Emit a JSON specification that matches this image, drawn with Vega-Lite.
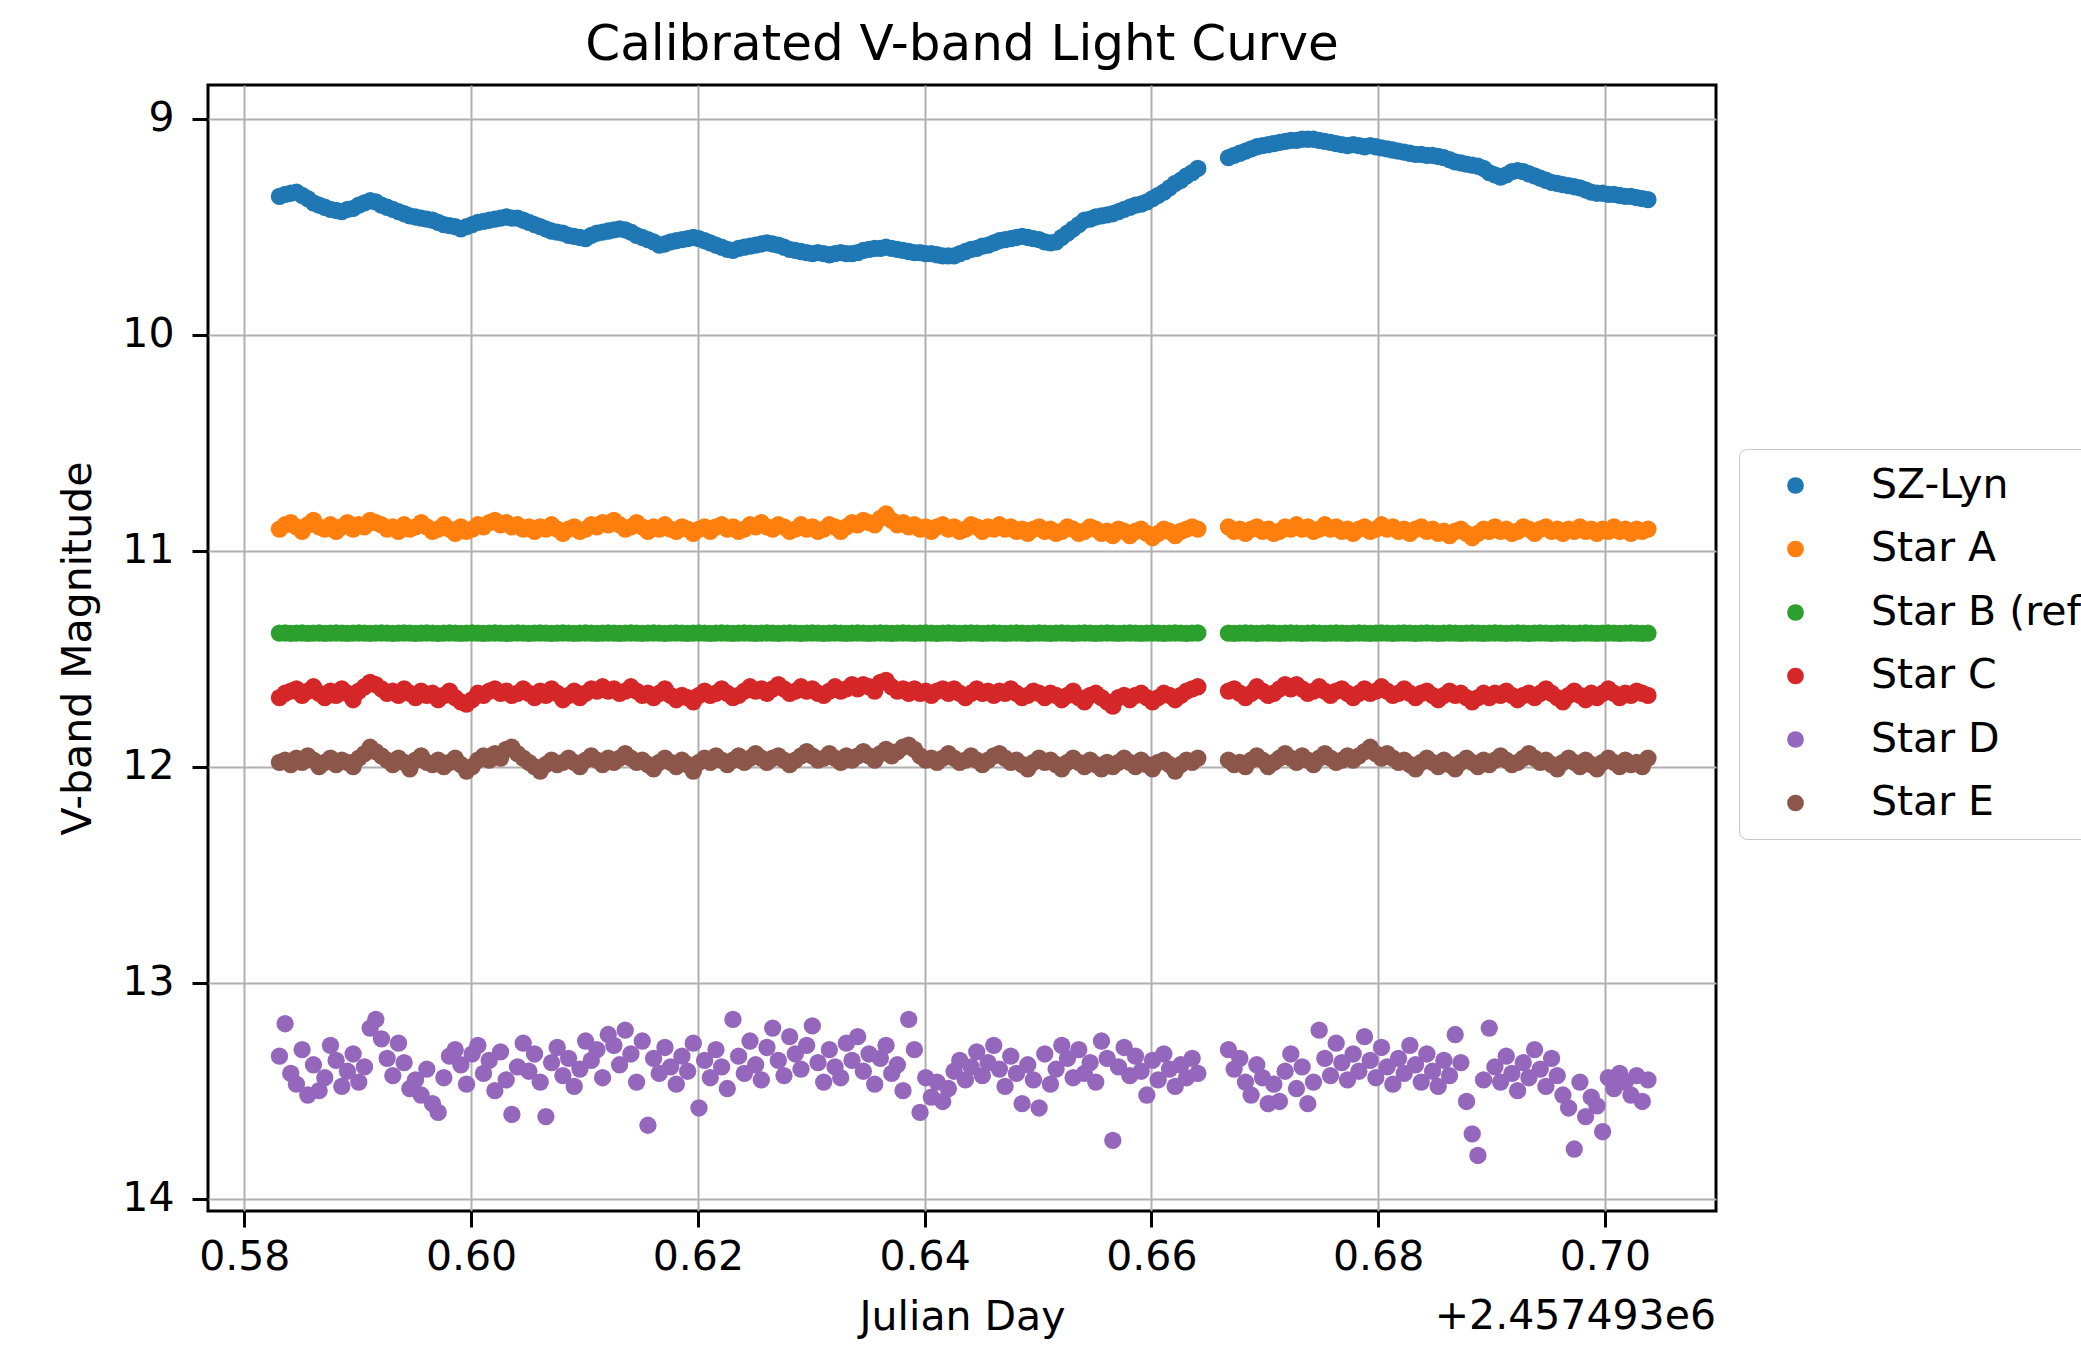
{
"$schema": "https://vega.github.io/schema/vega-lite/v6.json",
"width": 1508, "height": 1126,
"autosize": {"type": "none"},
"padding": {"left": 208, "top": 85, "right": 365, "bottom": 138},
"background": "white",
"title": {"text": "Calibrated V-band Light Curve", "fontSize": 50, "font": "DejaVu Sans", "fontWeight": "normal", "color": "black", "offset": 15, "anchor": "middle"},
"config": {"view": {"stroke": "black", "strokeWidth": 3}, "font": "DejaVu Sans"},
"layer": [
{
"data": {"values": [
{"t":0.5831,"s":9.36,"a":10.90,"b":11.382,"c":11.68,"d":13.34,"e":11.98},
{"t":0.5836,"s":9.35,"a":10.88,"b":11.381,"c":11.66,"d":13.19,"e":11.97},
{"t":0.5841,"s":9.345,"a":10.87,"b":11.383,"c":11.65,"d":13.42,"e":11.99},
{"t":0.5846,"s":9.34,"a":10.89,"b":11.382,"c":11.64,"d":13.47,"e":11.96},
{"t":0.5851,"s":9.355,"a":10.91,"b":11.381,"c":11.67,"d":13.31,"e":11.98},
{"t":0.5856,"s":9.37,"a":10.88,"b":11.383,"c":11.65,"d":13.52,"e":11.95},
{"t":0.5861,"s":9.39,"a":10.86,"b":11.382,"c":11.63,"d":13.38,"e":11.97},
{"t":0.5866,"s":9.40,"a":10.89,"b":11.381,"c":11.66,"d":13.50,"e":12.00},
{"t":0.5871,"s":9.41,"a":10.90,"b":11.383,"c":11.68,"d":13.44,"e":11.98},
{"t":0.5876,"s":9.42,"a":10.88,"b":11.382,"c":11.65,"d":13.29,"e":11.96},
{"t":0.5881,"s":9.425,"a":10.91,"b":11.381,"c":11.67,"d":13.36,"e":11.99},
{"t":0.5886,"s":9.43,"a":10.89,"b":11.382,"c":11.64,"d":13.48,"e":11.97},
{"t":0.5891,"s":9.42,"a":10.87,"b":11.383,"c":11.66,"d":13.41,"e":11.98},
{"t":0.5896,"s":9.415,"a":10.90,"b":11.382,"c":11.69,"d":13.33,"e":12.00},
{"t":0.5901,"s":9.40,"a":10.88,"b":11.381,"c":11.65,"d":13.46,"e":11.96},
{"t":0.5906,"s":9.39,"a":10.89,"b":11.382,"c":11.63,"d":13.39,"e":11.94},
{"t":0.5911,"s":9.38,"a":10.86,"b":11.383,"c":11.61,"d":13.21,"e":11.91},
{"t":0.5916,"s":9.385,"a":10.87,"b":11.382,"c":11.62,"d":13.17,"e":11.93},
{"t":0.5921,"s":9.40,"a":10.88,"b":11.381,"c":11.64,"d":13.26,"e":11.95},
{"t":0.5926,"s":9.41,"a":10.90,"b":11.382,"c":11.66,"d":13.35,"e":11.97},
{"t":0.5931,"s":9.42,"a":10.89,"b":11.383,"c":11.65,"d":13.43,"e":11.99},
{"t":0.5936,"s":9.43,"a":10.91,"b":11.382,"c":11.67,"d":13.28,"e":11.96},
{"t":0.5941,"s":9.44,"a":10.88,"b":11.381,"c":11.64,"d":13.37,"e":11.98},
{"t":0.5946,"s":9.45,"a":10.90,"b":11.382,"c":11.66,"d":13.49,"e":12.01},
{"t":0.5951,"s":9.455,"a":10.89,"b":11.383,"c":11.68,"d":13.45,"e":11.97},
{"t":0.5956,"s":9.46,"a":10.87,"b":11.382,"c":11.65,"d":13.52,"e":11.95},
{"t":0.5961,"s":9.465,"a":10.89,"b":11.381,"c":11.67,"d":13.40,"e":11.98},
{"t":0.5966,"s":9.47,"a":10.91,"b":11.382,"c":11.66,"d":13.56,"e":11.99},
{"t":0.5971,"s":9.48,"a":10.90,"b":11.383,"c":11.69,"d":13.60,"e":11.97},
{"t":0.5976,"s":9.49,"a":10.88,"b":11.382,"c":11.67,"d":13.44,"e":12.00},
{"t":0.5981,"s":9.495,"a":10.90,"b":11.381,"c":11.65,"d":13.34,"e":11.98},
{"t":0.5986,"s":9.50,"a":10.92,"b":11.382,"c":11.68,"d":13.31,"e":11.96},
{"t":0.5991,"s":9.51,"a":10.89,"b":11.383,"c":11.70,"d":13.38,"e":11.99},
{"t":0.5996,"s":9.50,"a":10.91,"b":11.382,"c":11.71,"d":13.47,"e":12.02},
{"t":0.6001,"s":9.49,"a":10.90,"b":11.381,"c":11.69,"d":13.33,"e":12.00},
{"t":0.6006,"s":9.48,"a":10.88,"b":11.382,"c":11.66,"d":13.29,"e":11.97},
{"t":0.6011,"s":9.475,"a":10.89,"b":11.383,"c":11.67,"d":13.42,"e":11.95},
{"t":0.6016,"s":9.47,"a":10.87,"b":11.382,"c":11.65,"d":13.36,"e":11.97},
{"t":0.6021,"s":9.465,"a":10.86,"b":11.381,"c":11.64,"d":13.50,"e":11.94},
{"t":0.6026,"s":9.46,"a":10.88,"b":11.382,"c":11.66,"d":13.32,"e":11.96},
{"t":0.6031,"s":9.455,"a":10.87,"b":11.383,"c":11.65,"d":13.45,"e":11.92},
{"t":0.6036,"s":9.46,"a":10.89,"b":11.382,"c":11.67,"d":13.61,"e":11.91},
{"t":0.6041,"s":9.46,"a":10.88,"b":11.381,"c":11.66,"d":13.39,"e":11.94},
{"t":0.6046,"s":9.47,"a":10.90,"b":11.382,"c":11.64,"d":13.28,"e":11.96},
{"t":0.6051,"s":9.48,"a":10.89,"b":11.383,"c":11.66,"d":13.41,"e":11.98},
{"t":0.6056,"s":9.49,"a":10.91,"b":11.382,"c":11.68,"d":13.33,"e":12.00},
{"t":0.6061,"s":9.50,"a":10.89,"b":11.381,"c":11.65,"d":13.46,"e":12.02},
{"t":0.6066,"s":9.51,"a":10.90,"b":11.382,"c":11.67,"d":13.62,"e":11.99},
{"t":0.6071,"s":9.52,"a":10.88,"b":11.383,"c":11.64,"d":13.37,"e":11.97},
{"t":0.6076,"s":9.525,"a":10.90,"b":11.382,"c":11.66,"d":13.30,"e":11.99},
{"t":0.6081,"s":9.53,"a":10.92,"b":11.381,"c":11.69,"d":13.43,"e":11.98},
{"t":0.6086,"s":9.54,"a":10.90,"b":11.382,"c":11.67,"d":13.35,"e":11.96},
{"t":0.6091,"s":9.545,"a":10.89,"b":11.383,"c":11.65,"d":13.48,"e":11.98},
{"t":0.6096,"s":9.55,"a":10.91,"b":11.382,"c":11.68,"d":13.40,"e":12.00},
{"t":0.6101,"s":9.555,"a":10.90,"b":11.381,"c":11.66,"d":13.27,"e":11.97},
{"t":0.6106,"s":9.54,"a":10.88,"b":11.382,"c":11.64,"d":13.36,"e":11.95},
{"t":0.6111,"s":9.53,"a":10.89,"b":11.383,"c":11.65,"d":13.31,"e":11.97},
{"t":0.6116,"s":9.525,"a":10.87,"b":11.382,"c":11.63,"d":13.44,"e":11.99},
{"t":0.6121,"s":9.52,"a":10.88,"b":11.381,"c":11.65,"d":13.24,"e":11.96},
{"t":0.6126,"s":9.515,"a":10.86,"b":11.382,"c":11.64,"d":13.29,"e":11.98},
{"t":0.6131,"s":9.51,"a":10.88,"b":11.383,"c":11.66,"d":13.38,"e":11.96},
{"t":0.6136,"s":9.515,"a":10.90,"b":11.382,"c":11.65,"d":13.22,"e":11.94},
{"t":0.6141,"s":9.525,"a":10.89,"b":11.381,"c":11.63,"d":13.33,"e":11.96},
{"t":0.6146,"s":9.54,"a":10.87,"b":11.382,"c":11.65,"d":13.46,"e":11.98},
{"t":0.6151,"s":9.55,"a":10.89,"b":11.383,"c":11.67,"d":13.27,"e":11.97},
{"t":0.6156,"s":9.56,"a":10.91,"b":11.382,"c":11.66,"d":13.66,"e":11.99},
{"t":0.6161,"s":9.57,"a":10.89,"b":11.381,"c":11.68,"d":13.35,"e":12.01},
{"t":0.6166,"s":9.585,"a":10.90,"b":11.382,"c":11.66,"d":13.42,"e":11.98},
{"t":0.6171,"s":9.58,"a":10.88,"b":11.383,"c":11.64,"d":13.30,"e":11.96},
{"t":0.6176,"s":9.57,"a":10.90,"b":11.382,"c":11.67,"d":13.39,"e":11.98},
{"t":0.6181,"s":9.565,"a":10.91,"b":11.381,"c":11.69,"d":13.47,"e":12.00},
{"t":0.6186,"s":9.56,"a":10.89,"b":11.382,"c":11.67,"d":13.34,"e":11.97},
{"t":0.6191,"s":9.555,"a":10.90,"b":11.383,"c":11.68,"d":13.41,"e":11.99},
{"t":0.6196,"s":9.55,"a":10.92,"b":11.382,"c":11.70,"d":13.28,"e":12.02},
{"t":0.6201,"s":9.555,"a":10.90,"b":11.381,"c":11.67,"d":13.58,"e":11.98},
{"t":0.6206,"s":9.565,"a":10.89,"b":11.382,"c":11.65,"d":13.36,"e":11.96},
{"t":0.6211,"s":9.575,"a":10.91,"b":11.383,"c":11.67,"d":13.44,"e":11.98},
{"t":0.6216,"s":9.585,"a":10.89,"b":11.382,"c":11.66,"d":13.31,"e":11.95},
{"t":0.6221,"s":9.595,"a":10.88,"b":11.381,"c":11.64,"d":13.39,"e":11.97},
{"t":0.6226,"s":9.605,"a":10.90,"b":11.382,"c":11.66,"d":13.49,"e":11.99},
{"t":0.6231,"s":9.61,"a":10.89,"b":11.383,"c":11.68,"d":13.17,"e":11.97},
{"t":0.6236,"s":9.60,"a":10.91,"b":11.382,"c":11.67,"d":13.34,"e":11.95},
{"t":0.6241,"s":9.595,"a":10.90,"b":11.381,"c":11.65,"d":13.42,"e":11.98},
{"t":0.6246,"s":9.59,"a":10.88,"b":11.382,"c":11.63,"d":13.27,"e":11.96},
{"t":0.6251,"s":9.585,"a":10.89,"b":11.383,"c":11.65,"d":13.38,"e":11.94},
{"t":0.6256,"s":9.58,"a":10.87,"b":11.382,"c":11.64,"d":13.45,"e":11.96},
{"t":0.6261,"s":9.575,"a":10.89,"b":11.381,"c":11.66,"d":13.30,"e":11.98},
{"t":0.6266,"s":9.58,"a":10.90,"b":11.382,"c":11.64,"d":13.21,"e":11.96},
{"t":0.6271,"s":9.585,"a":10.88,"b":11.383,"c":11.62,"d":13.36,"e":11.95},
{"t":0.6276,"s":9.595,"a":10.89,"b":11.382,"c":11.64,"d":13.43,"e":11.97},
{"t":0.6281,"s":9.605,"a":10.91,"b":11.381,"c":11.66,"d":13.25,"e":11.99},
{"t":0.6286,"s":9.61,"a":10.90,"b":11.382,"c":11.65,"d":13.33,"e":11.97},
{"t":0.6291,"s":9.615,"a":10.88,"b":11.383,"c":11.63,"d":13.40,"e":11.95},
{"t":0.6296,"s":9.62,"a":10.90,"b":11.382,"c":11.65,"d":13.29,"e":11.93},
{"t":0.6301,"s":9.625,"a":10.89,"b":11.381,"c":11.64,"d":13.20,"e":11.95},
{"t":0.6306,"s":9.62,"a":10.91,"b":11.382,"c":11.66,"d":13.37,"e":11.97},
{"t":0.6311,"s":9.625,"a":10.90,"b":11.383,"c":11.67,"d":13.46,"e":11.96},
{"t":0.6316,"s":9.63,"a":10.88,"b":11.382,"c":11.65,"d":13.31,"e":11.94},
{"t":0.6321,"s":9.625,"a":10.89,"b":11.381,"c":11.63,"d":13.39,"e":11.96},
{"t":0.6326,"s":9.62,"a":10.91,"b":11.382,"c":11.65,"d":13.44,"e":11.98},
{"t":0.6331,"s":9.625,"a":10.89,"b":11.383,"c":11.64,"d":13.28,"e":11.95},
{"t":0.6336,"s":9.625,"a":10.87,"b":11.382,"c":11.62,"d":13.36,"e":11.97},
{"t":0.6341,"s":9.62,"a":10.88,"b":11.381,"c":11.64,"d":13.25,"e":11.95},
{"t":0.6346,"s":9.61,"a":10.86,"b":11.382,"c":11.62,"d":13.41,"e":11.93},
{"t":0.6351,"s":9.605,"a":10.87,"b":11.383,"c":11.63,"d":13.33,"e":11.95},
{"t":0.6356,"s":9.60,"a":10.88,"b":11.382,"c":11.65,"d":13.47,"e":11.97},
{"t":0.6361,"s":9.60,"a":10.85,"b":11.381,"c":11.61,"d":13.35,"e":11.94},
{"t":0.6366,"s":9.595,"a":10.83,"b":11.382,"c":11.60,"d":13.29,"e":11.92},
{"t":0.6371,"s":9.60,"a":10.86,"b":11.383,"c":11.63,"d":13.42,"e":11.95},
{"t":0.6376,"s":9.605,"a":10.88,"b":11.382,"c":11.65,"d":13.38,"e":11.93},
{"t":0.6381,"s":9.61,"a":10.87,"b":11.381,"c":11.64,"d":13.50,"e":11.91},
{"t":0.6386,"s":9.615,"a":10.89,"b":11.382,"c":11.66,"d":13.17,"e":11.90},
{"t":0.6391,"s":9.62,"a":10.88,"b":11.383,"c":11.64,"d":13.31,"e":11.92},
{"t":0.6396,"s":9.62,"a":10.90,"b":11.382,"c":11.66,"d":13.60,"e":11.95},
{"t":0.6401,"s":9.625,"a":10.89,"b":11.381,"c":11.65,"d":13.44,"e":11.97},
{"t":0.6406,"s":9.625,"a":10.91,"b":11.382,"c":11.67,"d":13.53,"e":11.96},
{"t":0.6411,"s":9.63,"a":10.89,"b":11.383,"c":11.65,"d":13.46,"e":11.98},
{"t":0.6416,"s":9.635,"a":10.88,"b":11.382,"c":11.64,"d":13.55,"e":11.96},
{"t":0.6421,"s":9.635,"a":10.90,"b":11.381,"c":11.66,"d":13.49,"e":11.94},
{"t":0.6426,"s":9.635,"a":10.89,"b":11.382,"c":11.64,"d":13.41,"e":11.96},
{"t":0.6431,"s":9.625,"a":10.91,"b":11.383,"c":11.66,"d":13.36,"e":11.98},
{"t":0.6436,"s":9.615,"a":10.90,"b":11.382,"c":11.68,"d":13.45,"e":11.97},
{"t":0.6441,"s":9.605,"a":10.88,"b":11.381,"c":11.66,"d":13.39,"e":11.95},
{"t":0.6446,"s":9.60,"a":10.89,"b":11.382,"c":11.64,"d":13.32,"e":11.97},
{"t":0.6451,"s":9.59,"a":10.91,"b":11.383,"c":11.66,"d":13.43,"e":11.99},
{"t":0.6456,"s":9.585,"a":10.89,"b":11.382,"c":11.65,"d":13.37,"e":11.97},
{"t":0.6461,"s":9.575,"a":10.90,"b":11.381,"c":11.67,"d":13.29,"e":11.95},
{"t":0.6466,"s":9.565,"a":10.88,"b":11.382,"c":11.65,"d":13.40,"e":11.94},
{"t":0.6471,"s":9.56,"a":10.90,"b":11.383,"c":11.66,"d":13.48,"e":11.96},
{"t":0.6476,"s":9.555,"a":10.89,"b":11.382,"c":11.64,"d":13.34,"e":11.98},
{"t":0.6481,"s":9.55,"a":10.91,"b":11.381,"c":11.66,"d":13.42,"e":11.97},
{"t":0.6486,"s":9.545,"a":10.90,"b":11.382,"c":11.68,"d":13.56,"e":11.99},
{"t":0.6491,"s":9.55,"a":10.92,"b":11.383,"c":11.67,"d":13.38,"e":12.01},
{"t":0.6496,"s":9.555,"a":10.90,"b":11.382,"c":11.65,"d":13.45,"e":11.98},
{"t":0.6501,"s":9.56,"a":10.89,"b":11.381,"c":11.66,"d":13.58,"e":11.96},
{"t":0.6506,"s":9.57,"a":10.91,"b":11.382,"c":11.68,"d":13.33,"e":11.98},
{"t":0.6511,"s":9.575,"a":10.90,"b":11.383,"c":11.66,"d":13.47,"e":11.97},
{"t":0.6516,"s":9.57,"a":10.92,"b":11.382,"c":11.67,"d":13.40,"e":11.99},
{"t":0.6521,"s":9.55,"a":10.91,"b":11.381,"c":11.69,"d":13.29,"e":12.01},
{"t":0.6526,"s":9.53,"a":10.89,"b":11.382,"c":11.67,"d":13.35,"e":11.98},
{"t":0.6531,"s":9.51,"a":10.90,"b":11.383,"c":11.65,"d":13.44,"e":11.96},
{"t":0.6536,"s":9.49,"a":10.92,"b":11.382,"c":11.68,"d":13.31,"e":11.98},
{"t":0.6541,"s":9.47,"a":10.91,"b":11.381,"c":11.70,"d":13.42,"e":12.00},
{"t":0.6546,"s":9.465,"a":10.89,"b":11.382,"c":11.67,"d":13.37,"e":11.97},
{"t":0.6551,"s":9.455,"a":10.90,"b":11.383,"c":11.66,"d":13.46,"e":11.99},
{"t":0.6556,"s":9.45,"a":10.92,"b":11.382,"c":11.68,"d":13.27,"e":12.01},
{"t":0.6561,"s":9.445,"a":10.91,"b":11.381,"c":11.70,"d":13.35,"e":11.98},
{"t":0.6566,"s":9.44,"a":10.93,"b":11.382,"c":11.72,"d":13.73,"e":12.00},
{"t":0.6571,"s":9.43,"a":10.90,"b":11.383,"c":11.68,"d":13.39,"e":11.98},
{"t":0.6576,"s":9.42,"a":10.91,"b":11.382,"c":11.67,"d":13.30,"e":11.96},
{"t":0.6581,"s":9.41,"a":10.93,"b":11.381,"c":11.69,"d":13.43,"e":11.98},
{"t":0.6586,"s":9.40,"a":10.91,"b":11.382,"c":11.67,"d":13.34,"e":12.00},
{"t":0.6591,"s":9.395,"a":10.90,"b":11.383,"c":11.66,"d":13.41,"e":11.97},
{"t":0.6596,"s":9.385,"a":10.92,"b":11.382,"c":11.68,"d":13.52,"e":11.99},
{"t":0.6601,"s":9.37,"a":10.94,"b":11.381,"c":11.70,"d":13.36,"e":12.01},
{"t":0.6606,"s":9.355,"a":10.92,"b":11.382,"c":11.68,"d":13.45,"e":11.98},
{"t":0.6611,"s":9.34,"a":10.90,"b":11.383,"c":11.66,"d":13.33,"e":11.97},
{"t":0.6616,"s":9.32,"a":10.91,"b":11.382,"c":11.67,"d":13.40,"e":11.99},
{"t":0.6621,"s":9.30,"a":10.93,"b":11.381,"c":11.69,"d":13.48,"e":12.02},
{"t":0.6626,"s":9.285,"a":10.91,"b":11.382,"c":11.67,"d":13.38,"e":11.99},
{"t":0.6631,"s":9.265,"a":10.90,"b":11.383,"c":11.65,"d":13.44,"e":11.97},
{"t":0.6636,"s":9.25,"a":10.89,"b":11.382,"c":11.64,"d":13.35,"e":11.98},
{"t":0.6641,"s":9.23,"a":10.90,"b":11.381,"c":11.63,"d":13.42,"e":11.96},
{"t":0.6668,"s":9.18,"a":10.89,"b":11.382,"c":11.65,"d":13.31,"e":11.97},
{"t":0.6673,"s":9.17,"a":10.91,"b":11.383,"c":11.64,"d":13.40,"e":11.99},
{"t":0.6678,"s":9.16,"a":10.90,"b":11.382,"c":11.66,"d":13.35,"e":11.98},
{"t":0.6683,"s":9.15,"a":10.92,"b":11.381,"c":11.68,"d":13.46,"e":12.00},
{"t":0.6688,"s":9.14,"a":10.90,"b":11.382,"c":11.66,"d":13.52,"e":11.97},
{"t":0.6693,"s":9.13,"a":10.89,"b":11.383,"c":11.63,"d":13.38,"e":11.95},
{"t":0.6698,"s":9.125,"a":10.91,"b":11.382,"c":11.65,"d":13.44,"e":11.97},
{"t":0.6703,"s":9.12,"a":10.90,"b":11.381,"c":11.67,"d":13.56,"e":12.00},
{"t":0.6708,"s":9.115,"a":10.92,"b":11.382,"c":11.66,"d":13.47,"e":11.98},
{"t":0.6713,"s":9.11,"a":10.91,"b":11.383,"c":11.64,"d":13.55,"e":11.96},
{"t":0.6718,"s":9.105,"a":10.89,"b":11.382,"c":11.62,"d":13.41,"e":11.94},
{"t":0.6723,"s":9.10,"a":10.90,"b":11.381,"c":11.64,"d":13.33,"e":11.96},
{"t":0.6728,"s":9.10,"a":10.88,"b":11.382,"c":11.62,"d":13.49,"e":11.98},
{"t":0.6733,"s":9.095,"a":10.90,"b":11.383,"c":11.64,"d":13.39,"e":11.95},
{"t":0.6738,"s":9.095,"a":10.89,"b":11.382,"c":11.66,"d":13.56,"e":11.97},
{"t":0.6743,"s":9.095,"a":10.91,"b":11.381,"c":11.65,"d":13.46,"e":11.99},
{"t":0.6748,"s":9.10,"a":10.90,"b":11.382,"c":11.63,"d":13.22,"e":11.96},
{"t":0.6753,"s":9.105,"a":10.88,"b":11.383,"c":11.65,"d":13.35,"e":11.94},
{"t":0.6758,"s":9.11,"a":10.90,"b":11.382,"c":11.67,"d":13.43,"e":11.96},
{"t":0.6763,"s":9.115,"a":10.89,"b":11.381,"c":11.65,"d":13.28,"e":11.98},
{"t":0.6768,"s":9.12,"a":10.91,"b":11.382,"c":11.64,"d":13.37,"e":11.97},
{"t":0.6773,"s":9.125,"a":10.90,"b":11.383,"c":11.66,"d":13.45,"e":11.95},
{"t":0.6778,"s":9.12,"a":10.92,"b":11.382,"c":11.68,"d":13.33,"e":11.97},
{"t":0.6783,"s":9.125,"a":10.90,"b":11.381,"c":11.66,"d":13.41,"e":11.95},
{"t":0.6788,"s":9.13,"a":10.89,"b":11.382,"c":11.64,"d":13.25,"e":11.93},
{"t":0.6793,"s":9.125,"a":10.91,"b":11.383,"c":11.66,"d":13.36,"e":11.91},
{"t":0.6798,"s":9.13,"a":10.90,"b":11.382,"c":11.65,"d":13.44,"e":11.94},
{"t":0.6803,"s":9.135,"a":10.88,"b":11.381,"c":11.63,"d":13.30,"e":11.96},
{"t":0.6808,"s":9.14,"a":10.90,"b":11.382,"c":11.65,"d":13.39,"e":11.94},
{"t":0.6813,"s":9.145,"a":10.89,"b":11.383,"c":11.67,"d":13.47,"e":11.96},
{"t":0.6818,"s":9.15,"a":10.91,"b":11.382,"c":11.66,"d":13.35,"e":11.98},
{"t":0.6823,"s":9.155,"a":10.90,"b":11.381,"c":11.64,"d":13.42,"e":11.97},
{"t":0.6828,"s":9.16,"a":10.92,"b":11.382,"c":11.66,"d":13.29,"e":11.99},
{"t":0.6833,"s":9.165,"a":10.90,"b":11.383,"c":11.68,"d":13.38,"e":12.01},
{"t":0.6838,"s":9.165,"a":10.89,"b":11.382,"c":11.66,"d":13.46,"e":11.98},
{"t":0.6843,"s":9.17,"a":10.91,"b":11.381,"c":11.65,"d":13.33,"e":11.96},
{"t":0.6848,"s":9.17,"a":10.90,"b":11.382,"c":11.67,"d":13.41,"e":11.98},
{"t":0.6853,"s":9.175,"a":10.92,"b":11.383,"c":11.69,"d":13.48,"e":12.00},
{"t":0.6858,"s":9.18,"a":10.91,"b":11.382,"c":11.67,"d":13.36,"e":11.97},
{"t":0.6863,"s":9.19,"a":10.93,"b":11.381,"c":11.65,"d":13.43,"e":11.99},
{"t":0.6868,"s":9.20,"a":10.91,"b":11.382,"c":11.67,"d":13.24,"e":12.01},
{"t":0.6873,"s":9.205,"a":10.90,"b":11.383,"c":11.66,"d":13.37,"e":11.98},
{"t":0.6878,"s":9.21,"a":10.92,"b":11.382,"c":11.68,"d":13.55,"e":11.96},
{"t":0.6883,"s":9.215,"a":10.94,"b":11.381,"c":11.70,"d":13.70,"e":11.98},
{"t":0.6888,"s":9.22,"a":10.92,"b":11.382,"c":11.68,"d":13.80,"e":12.00},
{"t":0.6893,"s":9.23,"a":10.90,"b":11.383,"c":11.66,"d":13.45,"e":11.97},
{"t":0.6898,"s":9.25,"a":10.91,"b":11.382,"c":11.68,"d":13.21,"e":11.99},
{"t":0.6903,"s":9.26,"a":10.89,"b":11.381,"c":11.66,"d":13.39,"e":11.97},
{"t":0.6908,"s":9.27,"a":10.91,"b":11.382,"c":11.67,"d":13.46,"e":11.95},
{"t":0.6913,"s":9.26,"a":10.90,"b":11.383,"c":11.65,"d":13.34,"e":11.97},
{"t":0.6918,"s":9.245,"a":10.92,"b":11.382,"c":11.67,"d":13.42,"e":11.99},
{"t":0.6923,"s":9.24,"a":10.91,"b":11.381,"c":11.69,"d":13.50,"e":11.98},
{"t":0.6928,"s":9.245,"a":10.89,"b":11.382,"c":11.67,"d":13.37,"e":11.96},
{"t":0.6933,"s":9.255,"a":10.90,"b":11.383,"c":11.66,"d":13.44,"e":11.94},
{"t":0.6938,"s":9.265,"a":10.92,"b":11.382,"c":11.68,"d":13.31,"e":11.96},
{"t":0.6943,"s":9.275,"a":10.90,"b":11.381,"c":11.66,"d":13.40,"e":11.98},
{"t":0.6948,"s":9.285,"a":10.89,"b":11.382,"c":11.64,"d":13.48,"e":11.97},
{"t":0.6953,"s":9.295,"a":10.91,"b":11.383,"c":11.66,"d":13.35,"e":11.99},
{"t":0.6958,"s":9.30,"a":10.90,"b":11.382,"c":11.68,"d":13.43,"e":12.01},
{"t":0.6963,"s":9.305,"a":10.92,"b":11.381,"c":11.70,"d":13.52,"e":11.98},
{"t":0.6968,"s":9.31,"a":10.90,"b":11.382,"c":11.67,"d":13.58,"e":11.96},
{"t":0.6973,"s":9.315,"a":10.91,"b":11.383,"c":11.65,"d":13.77,"e":11.98},
{"t":0.6978,"s":9.32,"a":10.89,"b":11.382,"c":11.67,"d":13.46,"e":12.00},
{"t":0.6983,"s":9.33,"a":10.91,"b":11.381,"c":11.69,"d":13.62,"e":11.97},
{"t":0.6988,"s":9.34,"a":10.90,"b":11.382,"c":11.66,"d":13.53,"e":11.99},
{"t":0.6993,"s":9.345,"a":10.92,"b":11.383,"c":11.68,"d":13.57,"e":12.01},
{"t":0.6998,"s":9.345,"a":10.90,"b":11.382,"c":11.66,"d":13.69,"e":11.98},
{"t":0.7003,"s":9.35,"a":10.91,"b":11.381,"c":11.64,"d":13.44,"e":11.96},
{"t":0.7008,"s":9.35,"a":10.89,"b":11.382,"c":11.66,"d":13.49,"e":11.98},
{"t":0.7013,"s":9.355,"a":10.91,"b":11.383,"c":11.68,"d":13.42,"e":12.00},
{"t":0.7018,"s":9.36,"a":10.90,"b":11.382,"c":11.66,"d":13.46,"e":11.97},
{"t":0.7023,"s":9.36,"a":10.92,"b":11.381,"c":11.67,"d":13.52,"e":11.99},
{"t":0.7028,"s":9.365,"a":10.90,"b":11.382,"c":11.65,"d":13.43,"e":11.98},
{"t":0.7033,"s":9.37,"a":10.91,"b":11.383,"c":11.66,"d":13.55,"e":12.00},
{"t":0.7038,"s":9.375,"a":10.90,"b":11.382,"c":11.67,"d":13.45,"e":11.96}
]},
"transform": [{"fold": ["s","a","b","c","d","e"], "as": ["star","mag"]}],
"mark": {"type": "point", "filled": true, "opacity": 1, "size": 300, "shape": "circle", "strokeWidth": 0},
"encoding": {
"x": {"field": "t", "type": "quantitative",
 "scale": {"domain": [0.5768, 0.7098], "nice": false, "zero": false},
 "axis": {"values": [0.58,0.6,0.62,0.64,0.66,0.68,0.7], "format": ".2f", "title": "Julian Day", "grid": true, "gridColor": "#b0b0b0", "gridWidth": 2, "domain": false, "ticks": true, "tickSize": 16, "tickWidth": 3, "tickColor": "black", "labelFontSize": 41, "labelFont": "DejaVu Sans", "labelColor": "black", "labelPadding": 10, "labelFlush": false, "labelOverlap": false, "titleFontSize": 41, "titleFont": "DejaVu Sans", "titleFontWeight": "normal", "titleColor": "black", "titlePadding": 20}},
"y": {"field": "mag", "type": "quantitative",
 "scale": {"domain": [8.844, 14.057], "reverse": true, "nice": false, "zero": false},
 "axis": {"values": [9,10,11,12,13,14], "format": "d", "title": "V-band Magnitude", "grid": true, "gridColor": "#b0b0b0", "gridWidth": 2, "domain": false, "ticks": true, "tickSize": 16, "tickWidth": 3, "tickColor": "black", "labelFontSize": 41, "labelFont": "DejaVu Sans", "labelColor": "black", "labelPadding": 18, "labelFlush": false, "labelOverlap": false, "titleFontSize": 41, "titleFont": "DejaVu Sans", "titleFontWeight": "normal", "titleColor": "black", "titlePadding": 22}},
"color": {"field": "star", "type": "nominal",
 "scale": {"domain": ["s","a","b","c","d","e"], "range": ["#1f77b4","#ff7f0e","#2ca02c","#d62728","#9467bd","#8c564b"]},
 "legend": {"title": null, "orient": "none", "legendX": 1531, "legendY": 364,
  "labelExpr": "datum.label == 's' ? 'SZ-Lyn' : datum.label == 'a' ? 'Star A' : datum.label == 'b' ? 'Star B (ref)' : datum.label == 'c' ? 'Star C' : datum.label == 'd' ? 'Star D' : 'Star E'",
  "labelFontSize": 41, "labelFont": "DejaVu Sans", "labelColor": "black", "labelLimit": 600,
  "symbolType": "circle", "symbolSize": 280, "symbolStrokeWidth": 0, "symbolOpacity": 1,
  "padding": 16, "rowPadding": 21.5, "strokeColor": "#c8c8c8", "cornerRadius": 8, "fillColor": "white",
  "symbolOffset": 20, "labelOffset": 55}}
}
},
{
"data": {"values": [{"label": "+2.457493e6"}]},
"mark": {"type": "text", "align": "right", "baseline": "top", "fontSize": 41, "font": "DejaVu Sans", "color": "black", "dy": 86},
"encoding": {
"x": {"datum": 0.7098, "type": "quantitative"},
"y": {"datum": 14.057, "type": "quantitative"},
"text": {"field": "label"}
}
}
]
}
